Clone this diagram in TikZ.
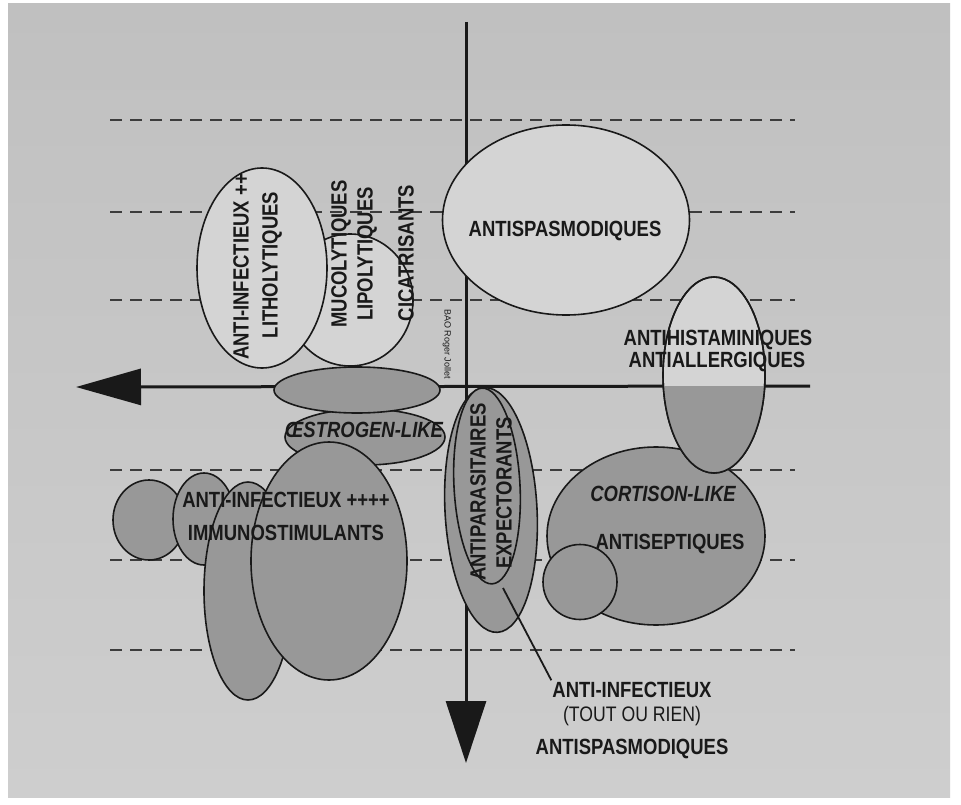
\documentclass[tikz,border=0pt]{standalone}
\usepackage{fontspec}
\setmainfont{Liberation Sans}
\newfontfamily\cond{Liberation Sans}[FakeStretch=0.84]
\usetikzlibrary{shapes.geometric,arrows.meta}
\definecolor{paperTop}{RGB}{192,192,192}
\definecolor{paperBot}{RGB}{206,206,206}
\definecolor{paperlight}{RGB}{212,212,212}
\definecolor{shadefill}{RGB}{152,152,152}
\definecolor{ink}{RGB}{25,25,25}
\definecolor{dashcol}{RGB}{60,60,60}
\begin{document}
\begin{tikzpicture}[x=1pt,y=-1pt,
  blob/.style={ellipse, draw=ink, line width=1.6pt, inner sep=0pt},
  wblob/.style={blob, fill=paperlight},
  gblob/.style={blob, fill=shadefill},
  lbl/.style={font=\cond\bfseries\fontsize{22}{24}\selectfont, text=ink, inner sep=0pt},
  ilbl/.style={font=\cond\bfseries\itshape\fontsize{22}{24}\selectfont, text=ink, inner sep=0pt},
  plbl/.style={font=\cond\fontsize{21}{23}\selectfont, text=ink, inner sep=0pt},
  guide/.style={draw=dashcol, line width=2pt, dash pattern=on 12pt off 8pt},
  axis/.style={draw=ink, line width=3pt}
]
\useasboundingbox (0,0) rectangle (961,805);
\fill[white] (0,0) rectangle (961,805);
\shade[top color=paperTop, bottom color=paperBot] (8,4) rectangle (950,797);

% dashed guide lines
\foreach \yy in {120,212,300,470,560,650}{
  \draw[guide] (110,\yy) -- (795,\yy);
}

% axes
\coordinate (xR) at (810,386);
\coordinate (xL) at (76,387);
\coordinate (yT) at (466,22);
\coordinate (yB) at (466,763);
\draw[axis, -{Triangle[length=65pt,width=36pt]}] (xR) -- (xL);
\draw[axis, -{Triangle[length=62pt,width=40pt]}] (yT) -- (yB);

% upper left (light) ellipses
\node[wblob, minimum width=126pt, minimum height=132pt] (muco) at (350,300) {};
\node[wblob, minimum width=130pt, minimum height=200pt] (anti1) at (262,268) {};
% antispasmodiques
\node[wblob, minimum width=247pt, minimum height=190pt] (spas) at (566,220) {};

% oestrogen-like
\node[gblob, minimum width=160pt, minimum height=56pt] (oe2) at (365,437) {};
\node[gblob, minimum width=166pt, minimum height=46pt] (oe1) at (357,390) {};

% lower left group
\node[gblob, minimum width=72pt, minimum height=80pt] (c1) at (149,520) {};
\node[gblob, minimum width=62pt, minimum height=92pt] (c2) at (204,519) {};
\node[gblob, minimum width=88pt, minimum height=218pt] (tall) at (248,591) {};
\node[gblob, minimum width=156pt, minimum height=238pt] (big) at (329,561) {};

% antiparasitaires / expectorants
\node[gblob, minimum width=92pt, minimum height=245pt, rotate=3] (ap1) at (491,510) {};
\node[gblob, minimum width=66pt, minimum height=196pt, rotate=3] (ap2) at (487,486) {};

% cortison-like / antiseptiques
\node[gblob, minimum width=218pt, minimum height=178pt] (cort) at (656,536) {};
\node[gblob, minimum width=74pt, minimum height=75pt] (sc) at (580,582) {};

% antihistaminiques (upper half light, lower half grey)
\node[wblob, minimum width=102pt, minimum height=196pt] (ah) at (714,375) {};
\begin{scope}
  \clip (600,386) rectangle (800,480);
  \fill[shadefill] (ah.center) ellipse [x radius=51pt, y radius=98pt];
\end{scope}
\node[blob, minimum width=102pt, minimum height=196pt] at (ah.center) {};

% texts
\node[lbl] (tspas) at (565,231) {ANTISPASMODIQUES};
\node[lbl, rotate=90] (t1) at (241,267) {ANTI-INFECTIEUX ++};
\node[lbl, rotate=90] (t2) at (272,265) {LITHOLYTIQUES};
\node[lbl, rotate=90] (t3) at (341,254) {MUCOLYTIQUES};
\node[lbl, rotate=90] (t4) at (367,254) {LIPOLYTIQUES};
\node[lbl, rotate=90] (t5) at (406,253) {CICATRISANTS};
\node[ilbl] (toe) at (364,430) {ŒSTROGEN-LIKE};
\node[lbl] (tai4) at (286,500) {ANTI-INFECTIEUX ++++};
\node[lbl] (timm) at (286,533) {IMMUNOSTIMULANTS};
\node[lbl, rotate=90] (tap) at (478,492) {ANTIPARASITAIRES};
\node[lbl, rotate=90] (tex) at (504,493) {EXPECTORANTS};
\node[lbl] (tah) at (718,340) {ANTIHISTAMINIQUES};
\node[lbl] (tal) at (717,362) {ANTIALLERGIQUES};
\node[ilbl] (tco) at (663,494) {CORTISON-LIKE};
\node[lbl] (tse) at (670,544) {ANTISEPTIQUES};
\node[lbl] (ai) at (632,690) {ANTI-INFECTIEUX};
\node[plbl] (tor) at (632,716) {(TOUT OU RIEN)};
\node[lbl] (asp) at (632,749) {ANTISPASMODIQUES};
\node[font=\fontsize{9}{10}\selectfont, text=ink, rotate=-90, inner sep=0pt] (cred) at (447,344) {BAO Roger Jollet};

% leader line
\coordinate (lead) at (503,588);
\draw[ink, line width=1.8pt, shorten >=2pt] (lead) -- (ai.north west);
\end{tikzpicture}
\end{document}
